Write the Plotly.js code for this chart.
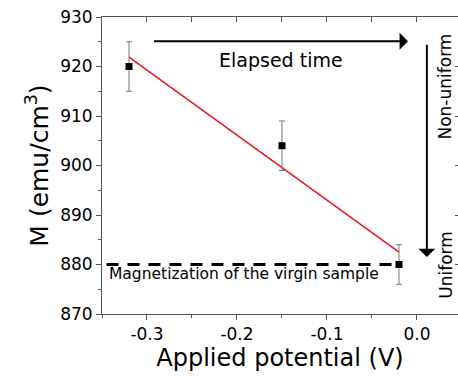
<!DOCTYPE html>
<html>
<head>
<meta charset="utf-8">
<script src="https://cdn.plot.ly/plotly-3.0.1.min.js"></script>
<style>html,body{margin:0;padding:0;background:#fff;}#chart{width:458px;height:377px;}</style>
</head>
<body>
<div id="chart"></div>
<script>
// Data
var potential = [-0.32, -0.15, -0.02];
var magnetization = [920, 904, 880];
var magError = [5, 5, 4];
var fitX = [-0.32, -0.02];
var fitY = [921.9, 882.5];
var virginX = [-0.345, -0.02];
var virginY = [880, 880];
var xTickVals = [-0.3, -0.2, -0.1, 0.0];
var xTickText = ['-0.3', '-0.2', '-0.1', '0.0'];
var yTickVals = [870, 880, 890, 900, 910, 920, 930];

var FONT = 'DejaVu Sans, Liberation Sans, Arial, sans-serif';
var AX = '#555';

var traces = [
  {x: virginX, y: virginY, mode: 'lines', type: 'scatter',
   line: {color: '#000', width: 3, dash: '12px,9px'}, hoverinfo: 'skip'},
  {x: fitX, y: fitY, mode: 'lines', type: 'scatter',
   line: {color: '#e8141b', width: 1.5}, hoverinfo: 'skip'},
  {x: potential, y: magnetization, mode: 'markers', type: 'scatter',
   marker: {symbol: 'square', size: 7, color: '#000'},
   error_y: {type: 'data', array: magError, visible: true, color: '#777', thickness: 1, width: 3}},
  {x: [0], y: [900], xaxis: 'x2', yaxis: 'y2', mode: 'markers', marker: {opacity: 0}, hoverinfo: 'skip'}
];

var layout = {
  width: 458, height: 377,
  margin: {l: 102, r: 0, t: 17, b: 63},
  paper_bgcolor: '#fff', plot_bgcolor: '#fff',
  showlegend: false,
  font: {family: FONT, color: '#000'},
  xaxis: {
    range: [-0.35, 0.0456], showgrid: false, zeroline: false,
    showline: true, linecolor: AX, linewidth: 1,
    tickvals: xTickVals, ticktext: xTickText,
    ticks: 'outside', ticklen: 5, tickcolor: AX, tickwidth: 1,
    minor: {dtick: 0.05, tick0: 0, ticks: 'outside', ticklen: 3, tickcolor: AX},
    tickfont: {size: 17, family: FONT, color: '#000'},
    title: {text: 'Applied potential (V)', font: {size: 24, family: FONT, color: '#000'}, standoff: 2}
  },
  yaxis: {
    range: [870, 930], showgrid: false, zeroline: false,
    showline: true, linecolor: AX, linewidth: 1,
    tickvals: yTickVals,
    ticks: 'outside', ticklen: 5, tickcolor: AX, tickwidth: 1,
    minor: {dtick: 5, tick0: 870, ticks: 'outside', ticklen: 3, tickcolor: AX},
    tickfont: {size: 17, family: FONT, color: '#000'},
    title: {text: 'M (emu/cm<sup>3</sup>)', font: {size: 25, family: FONT, color: '#000'}, standoff: 4}
  },
  xaxis2: {
    overlaying: 'x', side: 'top', range: [-0.35, 0.0456], showgrid: false, zeroline: false,
    showline: true, linecolor: AX, linewidth: 1,
    dtick: 0.05, tick0: 0, ticks: 'inside', ticklen: 5, tickcolor: AX,
    showticklabels: false
  },
  yaxis2: {
    overlaying: 'y', side: 'right', range: [870, 930], showgrid: false, zeroline: false,
    showline: false, dtick: 10, tick0: 870, ticks: 'inside', ticklen: 3, tickcolor: AX,
    showticklabels: false, anchor: 'x'
  },
  annotations: [
    {x: -0.01, y: 925.1, ax: -0.294, ay: 925.1, xref: 'x', yref: 'y', axref: 'x', ayref: 'y',
     text: '', showarrow: true, arrowhead: 1, arrowsize: 1.4, arrowwidth: 2, arrowcolor: '#000', standoff: 0},
    {x: 0.011, y: 881.5, ax: 0.011, ay: 924.7, xref: 'x', yref: 'y', axref: 'x', ayref: 'y',
     text: '', showarrow: true, arrowhead: 1, arrowsize: 1.4, arrowwidth: 2, arrowcolor: '#000', standoff: 0},
    {x: -0.151, y: 921.3, xref: 'x', yref: 'y', text: 'Elapsed time', showarrow: false,
     font: {size: 19, family: FONT, color: '#000'}},
    {x: 0.0314, y: 916.0, xref: 'x', yref: 'y', text: 'Non-uniform', showarrow: false, textangle: -90,
     font: {size: 17, family: FONT, color: '#000'}},
    {x: 0.0314, y: 880.0, xref: 'x', yref: 'y', text: 'Uniform', showarrow: false, textangle: -90,
     font: {size: 17, family: FONT, color: '#000'}},
    {x: -0.1925, y: 878.0, xref: 'x', yref: 'y', text: 'Magnetization of the virgin sample', showarrow: false,
     font: {size: 15.5, family: FONT, color: '#000'}}
  ]
};

Plotly.newPlot('chart', traces, layout, {displayModeBar: false, staticPlot: true});
</script>
</body>
</html>
